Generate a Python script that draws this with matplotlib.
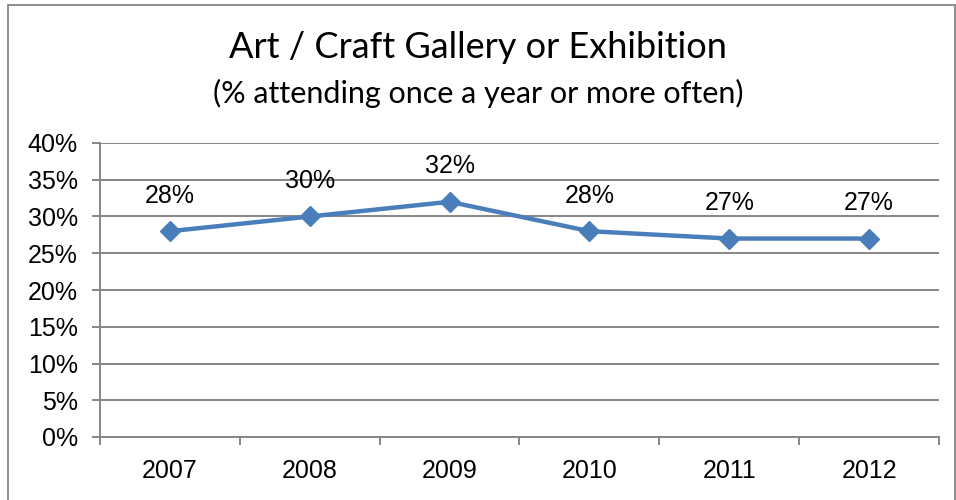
import numpy as np
import matplotlib
matplotlib.use("Agg")
import matplotlib.pyplot as plt
from matplotlib.patches import Rectangle

years = ["2007", "2008", "2009", "2010", "2011", "2012"]
attendance = [28, 30, 32, 28, 27, 27]
y_ticks = [0, 5, 10, 15, 20, 25, 30, 35, 40]

line_color = "#4A7EBB"
grid_color = "#868686"

fig = plt.figure(figsize=(9.56, 5.0), dpi=100)
fig.patch.set_facecolor("white")

# outer chart frame
fig.add_artist(Rectangle((8 / 956, -0.05), (955 - 8) / 956, 1.05 - 5 / 500,
                         transform=fig.transFigure, fill=False,
                         edgecolor=grid_color, linewidth=1.3))

ax = fig.add_axes([100 / 956, 1 - 437 / 500, (939 - 100) / 956, (437 - 143) / 500])

x = np.arange(len(years))
ax.plot(x, attendance, color=line_color, linewidth=3.2, marker="D",
        markersize=10, zorder=4, solid_joinstyle="round")

for xi, yi in zip(x, attendance):
    ax.annotate(f"{yi}%", (xi, yi), xytext=(0, 17), textcoords="offset points",
                ha="center", va="bottom", fontsize=18, family="Liberation Sans",
                color="black")

ax.set_xlim(-0.5, len(years) - 0.5)
ax.set_ylim(0, 40)
ax.set_yticks(y_ticks)
ax.set_yticklabels([f"{t}%" for t in y_ticks])
ax.set_xticks(x)
ax.set_xticklabels(years)
ax.set_xticks(np.arange(-0.5, len(years), 1.0), minor=True)

ax.yaxis.grid(True, color=grid_color, linewidth=1.4)
ax.set_axisbelow(True)
for side in ["top", "right"]:
    ax.spines[side].set_visible(False)
for side in ["left", "bottom"]:
    ax.spines[side].set_color(grid_color)
    ax.spines[side].set_linewidth(1.4)

ax.tick_params(axis="y", direction="out", length=6, width=1.4, color=grid_color,
               pad=10, labelsize=18)
ax.tick_params(axis="x", which="major", length=0, pad=16, labelsize=18)
ax.tick_params(axis="x", which="minor", direction="out", length=6, width=1.4,
               color=grid_color)
for lab in ax.get_xticklabels() + ax.get_yticklabels():
    lab.set_family("Liberation Sans")

fig.text(0.5, 1 - 48 / 500, "Art / Craft Gallery or Exhibition", ha="center",
         va="center", fontsize=26, family="Lato", color="black")
fig.text(0.5, 1 - 93 / 500, "(% attending once a year or more often)", ha="center",
         va="center", fontsize=22, family="Lato", color="black")

fig.savefig("out.png", dpi=100, facecolor="white")
